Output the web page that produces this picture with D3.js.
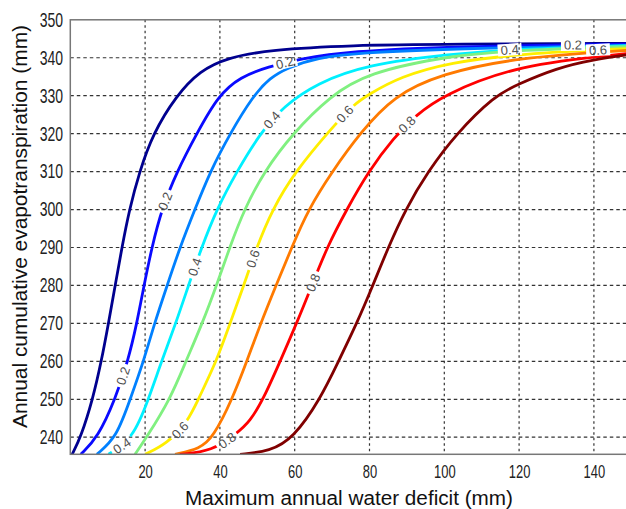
<!DOCTYPE html>
<html>
<head>
<meta charset="utf-8">
<script src="https://cdn.jsdelivr.net/npm/d3@7"></script>
<style>
  body { margin: 0; background: #fff; }
  svg { display: block; }
  text { font-family: 'Liberation Sans', Arial, sans-serif; }
</style>
</head>
<body>
<svg id="chart" width="626" height="509"></svg>
<script>
/* cumulative ET vs maximum annual water deficit, one curve per level */
const width = 626;
const height = 509;
const plotLeft = 70.3;
const plotRight = 631.3; // right border falls just outside the picture
const plotTop = 19.8;
const plotBottom = 454.3;

const xTicks = [20, 40, 60, 80, 100, 120, 140];
const yTicks = [240, 250, 260, 270, 280, 290, 300, 310, 320, 330, 340, 350];

// [water deficit, cumulative ET]
const level01 = [[0.5, 235.5], [2.8, 240], [6.0, 250], [8.3, 260], [10.2, 270], [12.0, 280], [13.8, 290], [15.8, 300], [18.5, 310], [22.1, 320], [28.3, 330], [34.7, 336.6], [41.9, 340], [53.4, 342.1], [74.8, 343.3], [101.5, 343.6], [150, 343.8]];
const level02 = [[2.8, 235.5], [7.4, 240], [12.0, 250], [15.4, 260], [17.8, 270], [19.7, 280], [21.8, 290], [24.4, 300], [28.5, 310], [33.8, 320], [39.5, 330], [45.5, 335], [52.9, 337.6], [61.4, 339.7], [74.8, 341.7], [101.5, 343.0], [150, 343.6]];
const level03 = [[7.1, 235.5], [12.4, 240], [16.0, 250], [19.6, 260], [22.5, 270], [25.9, 280], [29.3, 290], [33.3, 300], [37.4, 310], [42.7, 320], [48.9, 330], [53.4, 334.7], [57.9, 337.3], [65.9, 340], [77.5, 341.3], [101.5, 342.4], [150, 343.3]];
const level04 = [[10.2, 235.5], [16.8, 239.7], [20.9, 250], [24.4, 260], [28.2, 270], [31.6, 280], [35.1, 290], [39.1, 300], [44.5, 310], [50.7, 320], [57.0, 327.2], [65.9, 333.3], [79.3, 338.2], [101.5, 341.0], [120, 342.3], [150, 343.2]];
const level05 = [[17.3, 235.5], [20.4, 240], [26.7, 250], [30.9, 260], [35.3, 270], [39.1, 280], [42.6, 290], [46.5, 300], [51.8, 310], [59.6, 320.2], [69.4, 329.8], [79.3, 336.0], [101.5, 340.6], [120, 342.0], [150, 343.0]];
const level06 = [[20, 235.5], [25.8, 238.2], [31.5, 244.2], [34.2, 250], [39.1, 260], [42.7, 270], [46.4, 280], [49.8, 290], [54.0, 300], [60.1, 310], [69.9, 321.5], [75.7, 327.6], [79.7, 330.3], [88.2, 335.0], [101.5, 338.8], [120, 341.0], [150, 342.5]];
const level07 = [[28, 235.5], [34.7, 237], [38.2, 240], [43.3, 250], [47.2, 260], [50.9, 270], [55.0, 280], [59.2, 290], [63.6, 300], [70.0, 310], [77.5, 320.2], [86.4, 329.9], [98.9, 335.7], [119.4, 340.1], [150, 342.0]];
const level08 = [[29.3, 235.5], [37.9, 236.3], [44.5, 241], [48.0, 244.1], [51.6, 250], [56.1, 260], [60.5, 270], [64.6, 280], [68.6, 290], [73.9, 300], [79.7, 310], [86.4, 318.9], [92.6, 325], [99.4, 330], [119.4, 338.2], [150, 341.2]];
const level09 = [[45.4, 235.5], [53.4, 236.3], [59.6, 239.7], [66.8, 250], [71.7, 260], [76.6, 270], [80.9, 280], [85.0, 290], [89.6, 300], [95.6, 310], [103.2, 320], [113.5, 330], [119.4, 332.9], [130.1, 337.3], [139.8, 339.5], [150, 340.9]];

const curves = [level01, level02, level03, level04, level05, level06, level07, level08, level09];
const lineColors = ['#00008f', '#0a0aff', '#0080ff', '#00f0ff', '#80f080', '#ffee00', '#ff7a00', '#ff0000', '#800000'];

// contour labels: text, which curve, and the x positions they sit at
const labelTexts = ['0.2', '0.4', '0.6', '0.8'];
const labelCurves = [1, 3, 5, 7];
const labels02 = [14.1, 25.3, 57.4, 134.4];
const labels04 = [13.8, 33.3, 53.9, 117.5];
const labels06 = [29.3, 48.8, 73.4, 141.1];
const labels08 = [41.9, 64.9, 90.0];
const labelSpots = [labels02, labels04, labels06, labels08];

const xScale = d3.scaleLinear()
  .domain([0, 150])
  .range([plotLeft, plotRight]);

const yScale = d3.scaleLinear()
  .domain([235.5, 350])
  .range([plotBottom, plotTop]);

const svg = d3.select('svg#chart');
const defs = svg.append('defs');

defs.append('clipPath')
  .attr('id', 'plot-clip')
  .append('rect')
  .attr('x', plotLeft)
  .attr('y', plotTop)
  .attr('width', plotRight - plotLeft)
  .attr('height', plotBottom - plotTop);

// grid (dotted, MATLAB style)
svg.append('g')
  .selectAll('line')
  .data(xTicks)
  .enter()
  .append('line')
  .attr('x1', (d) => xScale(d))
  .attr('x2', (d) => xScale(d))
  .attr('y1', plotTop)
  .attr('y2', plotBottom)
  .attr('stroke', '#333')
  .attr('stroke-width', 1.2)
  .attr('stroke-dasharray', '2.5,3');

svg.append('g')
  .selectAll('line')
  .data(yTicks.filter((d) => d < 350))
  .enter()
  .append('line')
  .attr('x1', plotLeft)
  .attr('x2', plotRight)
  .attr('y1', (d) => yScale(d))
  .attr('y2', (d) => yScale(d))
  .attr('stroke', '#333')
  .attr('stroke-width', 1.2)
  .attr('stroke-dasharray', '3.5,3');

// find a point on a curve at a given x (linear between read points)
const pointAt = (curve, x) => {
  const i = Math.max(1, d3.bisector((p) => p[0]).left(curve, x));
  const a = curve[i - 1];
  const b = curve[Math.min(i, curve.length - 1)];
  const t = b[0] === a[0] ? 0 : (x - a[0]) / (b[0] - a[0]);
  return [xScale(x), yScale(a[1] + t * (b[1] - a[1]))];
};

const labels = [];
labelSpots.forEach((spots, k) => {
  const curve = curves[labelCurves[k]];
  spots.forEach((x) => {
    const [px, py] = pointAt(curve, x);
    const p0 = pointAt(curve, x - 0.6);
    const p1 = pointAt(curve, x + 0.6);
    const angle = Math.atan2(p1[1] - p0[1], p1[0] - p0[0]) * 180 / Math.PI;
    labels.push({ text: labelTexts[k], px, py, angle });
  });
});

// cut the lines where the labels sit
const mask = defs.append('mask')
  .attr('id', 'label-gaps')
  .attr('maskUnits', 'userSpaceOnUse')
  .attr('x', 0)
  .attr('y', 0)
  .attr('width', width)
  .attr('height', height);

mask.append('rect')
  .attr('width', width)
  .attr('height', height)
  .attr('fill', '#fff');

mask.selectAll('rect.gap')
  .data(labels)
  .enter()
  .append('rect')
  .attr('class', 'gap')
  .attr('x', -12)
  .attr('y', -6)
  .attr('width', 24)
  .attr('height', 12)
  .attr('fill', '#000')
  .attr('transform', (d) => `translate(${d.px},${d.py}) rotate(${d.angle})`);

// basis smoothing evens out small reading errors
const lineFunction = d3.line()
  .x((d) => xScale(d[0]))
  .y((d) => yScale(d[1]))
  .curve(d3.curveBasis);

svg.append('g')
  .attr('clip-path', 'url(#plot-clip)')
  .append('g')
  .attr('mask', 'url(#label-gaps)')
  .selectAll('path')
  .data(curves)
  .enter()
  .append('path')
  .attr('d', (d) => lineFunction(d))
  .attr('stroke', (d, i) => lineColors[i])
  .attr('stroke-width', 2.8)
  .attr('stroke-linejoin', 'round')
  .attr('fill', 'none');

svg.append('g')
  .selectAll('text')
  .data(labels)
  .enter()
  .append('text')
  .text((d) => d.text)
  .attr('transform', (d) => `translate(${d.px},${d.py}) rotate(${d.angle})`)
  .attr('text-anchor', 'middle')
  .attr('dy', '0.36em')
  .attr('font-size', '13px')
  .attr('fill', '#505050');

// axes box
svg.append('rect')
  .attr('x', plotLeft)
  .attr('y', plotTop)
  .attr('width', plotRight - plotLeft)
  .attr('height', plotBottom - plotTop)
  .attr('fill', 'none')
  .attr('stroke', '#777')
  .attr('stroke-width', 1.5);

// tick labels (narrow face, squeezed horizontally)
const yAxisGen = d3.axisLeft(yScale).tickValues(yTicks).tickSize(0).tickPadding(0);
const yAxis = svg.append('g')
  .attr('transform', `translate(${plotLeft},0)`)
  .call(yAxisGen);
yAxis.select('.domain').remove();
yAxis.selectAll('text')
  .attr('x', -10.4)
  .attr('transform', 'scale(0.7,1)')
  .attr('font-size', '20px')
  .attr('fill', '#222');

const xAxisGen = d3.axisBottom(xScale).tickValues(xTicks).tickSize(0).tickPadding(10.7);
const xAxis = svg.append('g')
  .attr('transform', `translate(0,${plotBottom})`)
  .call(xAxisGen);
xAxis.select('.domain').remove();
xAxis.selectAll('text')
  .attr('transform', 'scale(0.72,1)')
  .attr('font-size', '18px')
  .attr('fill', '#222');

// axis titles
svg.append('text')
  .text('Maximum annual water deficit (mm)')
  .attr('x', 349)
  .attr('y', 505)
  .attr('text-anchor', 'middle')
  .attr('font-size', '20px')
  .attr('textLength', 328)
  .attr('lengthAdjust', 'spacingAndGlyphs')
  .attr('fill', '#111');

svg.append('text')
  .text('Annual cumulative evapotranspiration (mm)')
  .attr('transform', 'translate(27,226.5) rotate(-90)')
  .attr('text-anchor', 'middle')
  .attr('font-size', '20px')
  .attr('textLength', 403)
  .attr('lengthAdjust', 'spacingAndGlyphs')
  .attr('fill', '#111');
</script>
</body>
</html>
